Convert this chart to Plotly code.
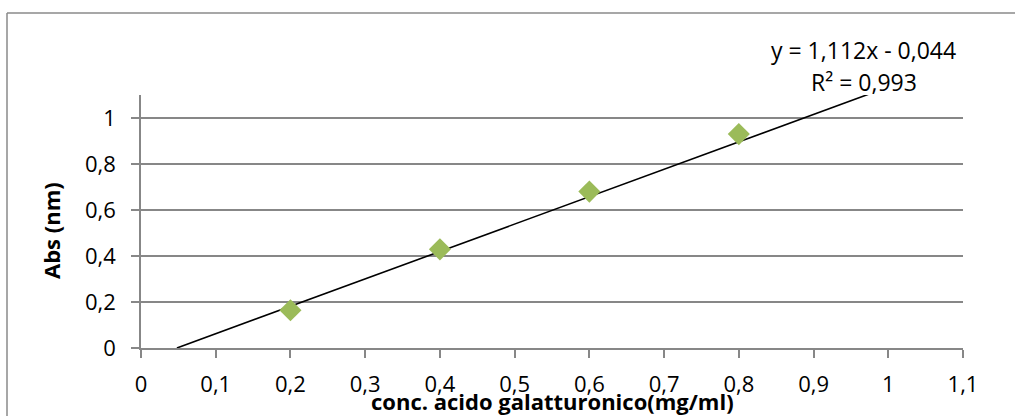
import plotly.graph_objects as go

# Data
conc = [0.2, 0.4, 0.6, 0.8]
absorb = [0.164, 0.429, 0.68, 0.93]
trend_x = [0.048, 0.975]
trend_y = [0.0, 1.105]
eq_text = "y = 1,112x - 0,044"
r2_text = "R² = 0,993"
x_title = "conc. acido galatturonico(mg/ml)"
y_title = "Abs (nm)"

W, H = 1015, 416
L, R, T, B = 141, 52, 95, 68
PW, PH = W - L - R, H - T - B

def px(x):
    return (x - L) / PW

def py(y):
    return (H - B - y) / PH

FONT = "Open Sans"
GRID = "#878787"
FS = 22

fig = go.Figure()
fig.add_trace(go.Scatter(x=trend_x, y=trend_y, mode="lines",
                         line=dict(color="black", width=1.6), showlegend=False))
fig.add_trace(go.Scatter(x=conc, y=absorb, mode="markers",
                         marker=dict(symbol="diamond", size=17, color="#9BBB59",
                                     line=dict(width=0)), showlegend=False))

fig.update_layout(
    width=W, height=H,
    margin=dict(l=L, r=R, t=T, b=B, pad=0),
    paper_bgcolor="white", plot_bgcolor="white",
    separators=",.",
    font=dict(family=FONT, size=FS, color="black"),
    xaxis=dict(range=[0, 1.1], dtick=0.1, tick0=0, showgrid=False, zeroline=False,
               showline=True, linecolor=GRID, linewidth=1.5,
               ticks="outside", ticklen=8, tickcolor=GRID, tickwidth=1.5,
               ticklabelstandoff=8, fixedrange=True),
    yaxis=dict(range=[0, 1.1], dtick=0.2, tick0=0, showgrid=True, gridcolor=GRID,
               gridwidth=1.5, zeroline=False,
               showline=True, linecolor=GRID, linewidth=1.5,
               ticks="outside", ticklen=8, tickcolor=GRID, tickwidth=1.5,
               ticklabelstandoff=11, fixedrange=True),
    shapes=[
        dict(type="line", xref="paper", yref="paper", x0=px(7), y0=py(H + 5), x1=px(7), y1=py(13),
             line=dict(color="#8a8a8a", width=1.5)),
        dict(type="line", xref="paper", yref="paper", x0=px(7), y0=py(13), x1=px(W + 5), y1=py(13),
             line=dict(color="#8a8a8a", width=1.5)),
    ],
    annotations=[
        dict(text=eq_text, xref="paper", yref="paper", x=px(863.5), y=py(50),
             showarrow=False, xanchor="center", yanchor="middle", font=dict(size=23)),
        dict(text=r2_text, xref="paper", yref="paper", x=px(863.5), y=py(82),
             showarrow=False, xanchor="center", yanchor="middle", font=dict(size=23)),
        dict(text="<b>" + x_title + "</b>", xref="paper", yref="paper", x=px(552), y=py(401),
             showarrow=False, xanchor="center", yanchor="middle", font=dict(size=FS)),
        dict(text="<b>" + y_title + "</b>", xref="paper", yref="paper", x=px(51), y=py(231),
             showarrow=False, xanchor="center", yanchor="middle", textangle=-90,
             font=dict(size=FS)),
    ],
)

fig.write_html("out.html", config={"displayModeBar": False})
